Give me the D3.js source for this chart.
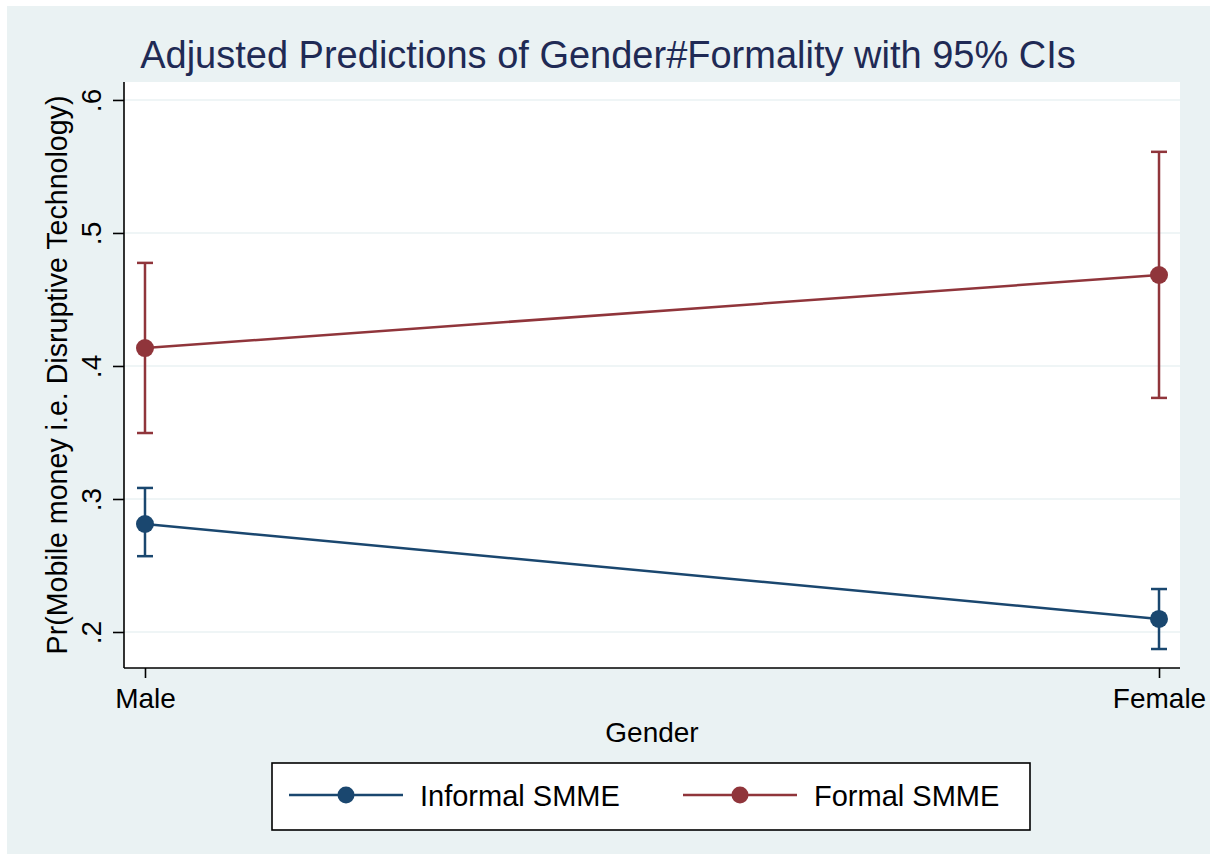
<!DOCTYPE html>
<html><head><meta charset="utf-8">
<script src="https://cdn.jsdelivr.net/npm/d3@7"></script>
<style>body{margin:0;background:#fff}svg{display:block}text{font-family:"Liberation Sans",Arial,Helvetica,sans-serif}</style>
</head><body>
<svg id="c" width="1210" height="854"></svg>
<script>
const genders = ["Male", "Female"];
const seriesNames = ["Informal SMME", "Formal SMME"];
const informalEst = [0.2812, 0.2098];
const informalLo = [0.257, 0.1872];
const informalHi = [0.3083, 0.2323];
const formalEst = [0.4135, 0.4684];
const formalLo = [0.3496, 0.376];
const formalHi = [0.4775, 0.561];
const yTicks = [0.2, 0.3, 0.4, 0.5, 0.6];
const yTickLabels = [".2", ".3", ".4", ".5", ".6"];
const colors = ["#1a476f", "#90353b"];

const series = [
  {name: seriesNames[0], est: informalEst, lo: informalLo, hi: informalHi, color: colors[0]},
  {name: seriesNames[1], est: formalEst, lo: formalLo, hi: formalHi, color: colors[1]}
];

const svg = d3.select("#c");
svg.append("rect").attr("x", 7).attr("y", 6).attr("width", 1203).attr("height", 848).attr("fill", "#eaf2f3");

const L = 124, R = 1180, T = 82, B = 668;
svg.append("rect").attr("x", L).attr("y", T).attr("width", R - L).attr("height", B - T).attr("fill", "#ffffff");

const y = d3.scaleLinear().domain([0.17293, 0.6135]).range([B, T]);
const x = d3.scalePoint().domain(genders).range([L, R]).padding(0.0207);

// grid
svg.append("g").selectAll("line").data(yTicks).join("line")
  .attr("x1", L).attr("x2", R).attr("y1", d => y(d)).attr("y2", d => y(d))
  .attr("stroke", "#eaf2f3").attr("stroke-width", 1.5);

// y axis
const yAxis = d3.axisLeft(y).tickValues(yTicks).tickSize(11).tickFormat((d, i) => yTickLabels[i]);
const gy = svg.append("g").attr("transform", `translate(${L},0)`).call(yAxis);
gy.select(".domain").attr("d", `M0,${T}V${B}`).attr("stroke", "#000").attr("stroke-width", 1.6);
gy.selectAll(".tick line").attr("stroke", "#000").attr("stroke-width", 1.6);
gy.selectAll(".tick text").attr("font-size", 28).attr("fill", "#000")
  .attr("text-anchor", "middle").attr("x", null).attr("dy", null)
  .attr("transform", "translate(-23,0) rotate(-90)");

// x axis
const xAxis = d3.axisBottom(x).tickSize(10).tickPadding(8);
const gx = svg.append("g").attr("transform", `translate(0,${B})`).call(xAxis);
gx.select(".domain").attr("d", `M${L},0H${R}`).attr("stroke", "#000").attr("stroke-width", 1.6);
gx.selectAll(".tick line").attr("stroke", "#000").attr("stroke-width", 1.6);
gx.selectAll(".tick text").attr("font-size", 28).attr("fill", "#000").attr("dy", null).attr("y", 40);

// axis titles
svg.append("text").attr("x", (L + R) / 2).attr("y", 742).attr("text-anchor", "middle")
  .attr("font-size", 28).attr("fill", "#000").text("Gender");
svg.append("text").attr("transform", `translate(67,${(T + B) / 2}) rotate(-90)`).attr("text-anchor", "middle")
  .attr("font-size", 28.6).attr("fill", "#000").text("Pr(Mobile money i.e. Disruptive Technology)");

// title
svg.append("text").attr("x", 608).attr("y", 68).attr("text-anchor", "middle")
  .attr("font-size", 38).attr("fill", "#1f2a55").text("Adjusted Predictions of Gender#Formality with 95% CIs");

// series
const line = d3.line().x(d => x(d.g)).y(d => y(d.v));
series.forEach(s => {
  const pts = genders.map((g, i) => ({g, v: s.est[i], lo: s.lo[i], hi: s.hi[i]}));
  const g = svg.append("g");
  g.selectAll("line.ci").data(pts).join("line").attr("class", "ci")
    .attr("x1", d => x(d.g)).attr("x2", d => x(d.g)).attr("y1", d => y(d.lo)).attr("y2", d => y(d.hi))
    .attr("stroke", s.color).attr("stroke-width", 2.5);
  ["lo", "hi"].forEach(k => {
    g.selectAll("line.cap" + k).data(pts).join("line")
      .attr("x1", d => x(d.g) - 8).attr("x2", d => x(d.g) + 8).attr("y1", d => y(d[k])).attr("y2", d => y(d[k]))
      .attr("stroke", s.color).attr("stroke-width", 2.5);
  });
  g.append("path").datum(pts).attr("d", line).attr("fill", "none").attr("stroke", s.color).attr("stroke-width", 2.5);
  g.selectAll("circle").data(pts).join("circle")
    .attr("cx", d => x(d.g)).attr("cy", d => y(d.v)).attr("r", 9).attr("fill", s.color);
});

// legend
const lg = svg.append("g");
lg.append("rect").attr("x", 272).attr("y", 763).attr("width", 758).attr("height", 67)
  .attr("fill", "#fff").attr("stroke", "#000").attr("stroke-width", 1.6);
const legendX = [289, 683];
series.forEach((s, i) => {
  const x0 = legendX[i];
  lg.append("line").attr("x1", x0).attr("x2", x0 + 114).attr("y1", 795).attr("y2", 795)
    .attr("stroke", s.color).attr("stroke-width", 2.5);
  lg.append("circle").attr("cx", x0 + 57).attr("cy", 795).attr("r", 8.5).attr("fill", s.color);
  lg.append("text").attr("x", x0 + 131).attr("y", 806).attr("font-size", 29).attr("fill", "#000").text(s.name);
});
</script>
</body></html>
